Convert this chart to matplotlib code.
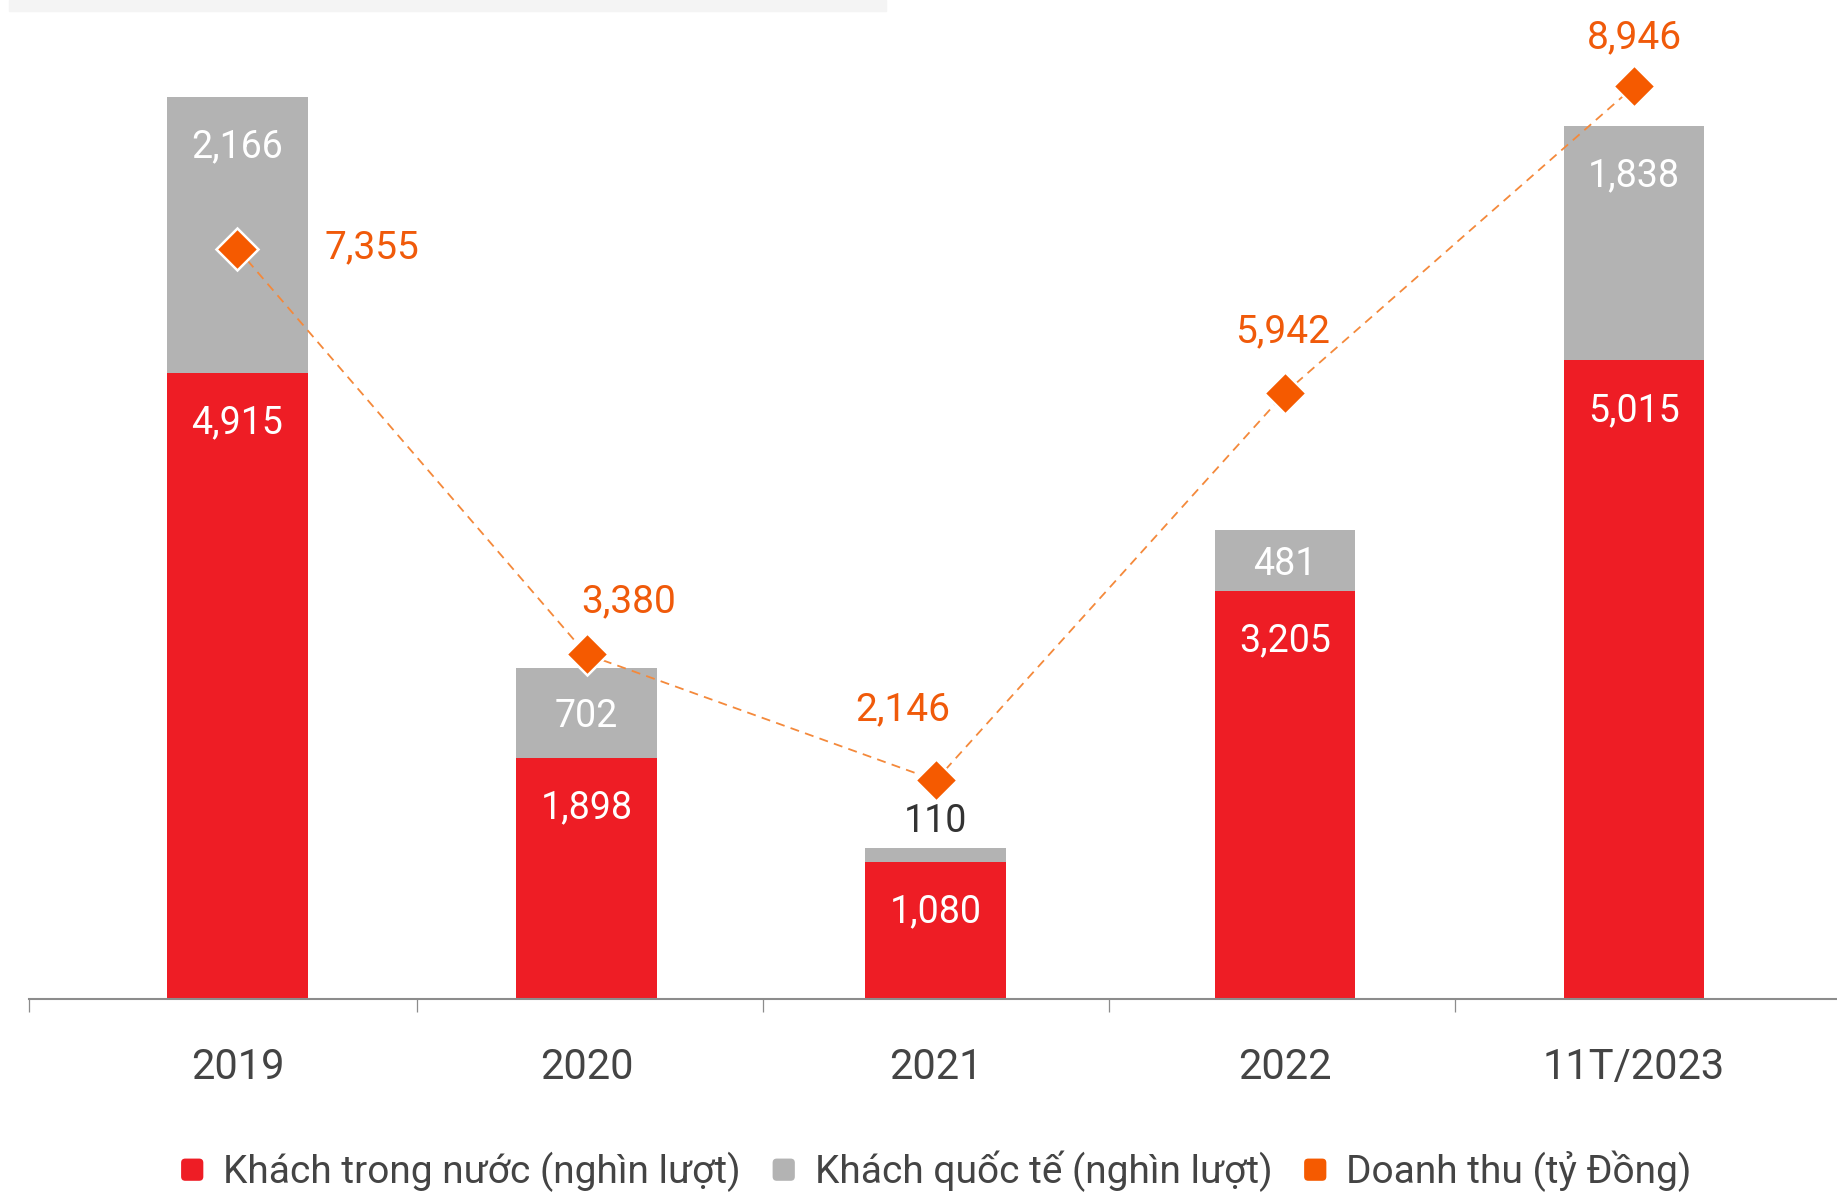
import matplotlib
matplotlib.use("Agg")
import matplotlib.pyplot as plt
from matplotlib.patches import Rectangle, FancyBboxPatch, Patch
from matplotlib.legend_handler import HandlerPatch

# ---------------- data ----------------
categories = ["2019", "2020", "2021", "2022", "11T/2023"]
domestic = [4915, 1898, 1080, 3205, 5015]        # Khách trong nước (nghìn lượt)
international = [2166, 702, 110, 481, 1838]      # Khách quốc tế (nghìn lượt)
revenue = [7355, 3380, 2146, 5942, 8946]         # Doanh thu (tỷ Đồng)
legend_labels = ["Khách trong nước (nghìn lượt)", "Khách quốc tế (nghìn lượt)",
                 "Doanh thu (tỷ Đồng)"]

# ---------------- style ----------------
RED = "#EE1D25"
GRAY = "#B3B3B3"
ORANGE = "#F55A00"
LINE_ORANGE = "#F4893B"
TEXT = "#444444"
FONT = ["Roboto", "DejaVu Sans"]
plt.rcParams["font.family"] = FONT

# offsets (points) for revenue labels
rev_offsets = [(97, 1), (30, 38), (-24, 51), (-2, 44), (0, 35)]
boundary_ticks = [-0.597, 0.514, 1.505, 2.495, 3.486]

W, H = 1837, 1193
fig = plt.figure(figsize=(W / 100, H / 100), dpi=100)
ax = fig.add_axes([29 / W, 0.1623, 1 - 29 / W, 0.8377])

# top light band
fig.patches.append(Rectangle((9 / W, 1 - 11 / H), (886 - 9) / W, 11 / H,
                             transform=fig.transFigure, color="#F4F4F4", zorder=0))

x = list(range(len(categories)))
bw = 0.403
ax.bar(x, domestic, width=bw, color=RED, zorder=2)
ax.bar(x, international, width=bw, bottom=domestic, color=GRAY, zorder=2)

ax.set_xlim(-0.597, 4.581)
ax.set_ylim(0, 7844)

for s in ["top", "right", "left"]:
    ax.spines[s].set_visible(False)
ax.spines["bottom"].set_color("#8C8C8C")
ax.spines["bottom"].set_linewidth(1.5)
ax.set_yticks([])
ax.set_xticks(x)
ax.set_xticklabels(categories, fontsize=30, color=TEXT)
ax.tick_params(axis="x", which="major", length=0, pad=34)
ax.set_xticks(boundary_ticks, minor=True)
ax.tick_params(axis="x", which="minor", length=9, width=0.9, color="#8C8C8C")

# segment labels
px_per_unit = (ax.transData.transform((0, 1000))[1] - ax.transData.transform((0, 0))[1]) / 1000
for i in x:
    segs = [(0, domestic[i]), (domestic[i], international[i])]
    for bottom, h in segs:
        top = bottom + h
        hpx = h * px_per_unit
        if hpx > 30:
            off_px = min(46, hpx / 2)
            ax.annotate(f"{h:,}", (i, top), xytext=(0, -off_px * 0.72),
                        textcoords="offset points", ha="center", va="center_baseline",
                        fontsize=27, color="white", zorder=5)
        else:
            ax.annotate(f"{h:,}", (i, top), xytext=(0, 19),
                        textcoords="offset points", ha="center", va="center",
                        fontsize=27, color="#333333", zorder=5)

# revenue line on secondary axis
ax2 = ax.twinx()
ax2.set_ylim(0, 9793)
ax2.axis("off")
ax2.plot(x, revenue, color=LINE_ORANGE, lw=1.3, ls=(0, (5, 3.5)), zorder=3)
ax2.plot(x, revenue, ls="none", marker="D", ms=21, mfc=ORANGE,
         mec="white", mew=1.8, zorder=4)
for i, v in enumerate(revenue):
    ax2.annotate(f"{v:,}", (i, v), xytext=rev_offsets[i], textcoords="offset points",
                 ha="center", va="center", fontsize=28, color="#F05A0A")


# legend with rounded squares
class RoundSquare(HandlerPatch):
    def create_artists(self, legend, orig_handle, xdescent, ydescent,
                       width, height, fontsize, trans):
        s = 16.0
        cx = width / 2 - xdescent
        cy = height / 2 - ydescent
        p = FancyBboxPatch((cx - s / 2, cy - s / 2), s, s,
                           boxstyle="round,pad=0,rounding_size=3",
                           fc=orig_handle.get_facecolor(), ec="none",
                           transform=trans)
        return [p]


handles = [Patch(color=c) for c in (RED, GRAY, ORANGE)]
fig.legend(handles, legend_labels, loc="center", bbox_to_anchor=(0.5096, 0.018),
           ncol=3, frameon=False, fontsize=28, labelcolor=TEXT,
           handler_map={Patch: RoundSquare()},
           handlelength=0.6, handleheight=0.7, handletextpad=0.5, columnspacing=0.8)

fig.savefig("out.png", dpi=100)
